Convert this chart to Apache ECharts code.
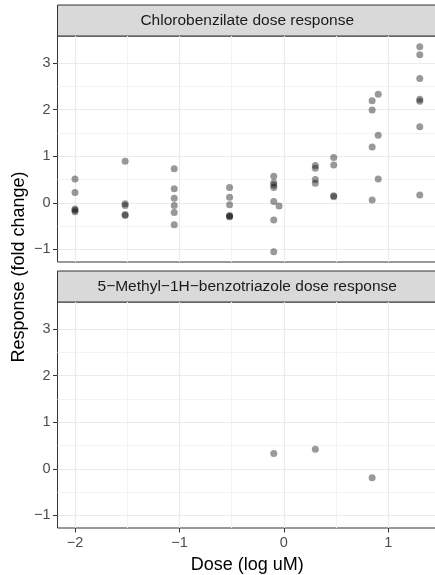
<!DOCTYPE html>
<html>
<head>
<meta charset="utf-8">
<script src="https://cdn.jsdelivr.net/npm/echarts@6/dist/echarts.min.js"></script>
<style>
  html, body { margin: 0; padding: 0; background: #fff; }
  #main { width: 435px; height: 575px; }
</style>
</head>
<body>
<div id="main"></div>
<script>
var chartDom = document.getElementById('main');
var myChart = echarts.init(chartDom);
var option;

// panel titles
const panelTitles = ['Chlorobenzilate dose response', '5\u2212Methyl\u22121H\u2212benzotriazole dose response'];

// Chlorobenzilate: dose (log uM) and response (fold change)
const chloroDose = [
  -2, -2, -2, -2, -2,
  -1.52, -1.52, -1.52, -1.52, -1.52,
  -1.05, -1.05, -1.05, -1.05, -1.05, -1.05,
  -0.52, -0.52, -0.52, -0.52, -0.52, -0.52,
  -0.097, -0.097, -0.097, -0.097, -0.097, -0.097, -0.097,
  -0.046,
  0.301, 0.301, 0.301, 0.301,
  0.477, 0.477, 0.477, 0.477,
  0.845, 0.845, 0.845, 0.845,
  0.903, 0.903, 0.903,
  1.301, 1.301, 1.301, 1.301, 1.301, 1.301, 1.301
];
const chloroResponse = [
  0.51, 0.22, -0.13, -0.16, -0.19,
  0.89, -0.02, -0.06, -0.25, -0.27,
  0.73, 0.30, 0.10, -0.06, -0.21, -0.47,
  0.33, 0.12, -0.04, -0.27, -0.29, -0.30,
  0.57, 0.43, 0.38, 0.33, 0.03, -0.37, -1.05,
  -0.07,
  0.80, 0.74, 0.50, 0.42,
  0.97, 0.81, 0.15, 0.13,
  2.19, 1.99, 1.20, 0.06,
  2.33, 1.45, 0.51,
  3.35, 3.18, 2.67, 2.22, 2.18, 1.63, 0.17
];

// 5-Methyl-1H-benzotriazole
const methylDose = [-0.097, 0.301, 0.845];
const methylResponse = [0.33, 0.42, -0.19];

// ticks
const xMajor = [-2, -1, 0, 1];
const xMinor = [-1.5, -0.5, 0.5];
const yMajor = [-1, 0, 1, 2, 3];
const yMinor = [-0.5, 0.5, 1.5, 2.5];

const X_MIN = -2.1676, X_MAX = 1.466;
const Y_MIN = -1.27, Y_MAX = 3.58;

const LEFT = 57.5;
const RIGHT = -2;
const panels = [
  { stripTop: 5, top: 36, height: 226 },
  { stripTop: 271, top: 302, height: 226 }
];
const STRIP_H = 31;
const FONT = 'Liberation Sans, Arial, sans-serif';

function zip(xs, ys) {
  return xs.map((x, i) => [x, ys[i]]);
}

function minusFmt(v) {
  return String(v).replace('-', '\u2212');
}

let grids = [], xAxes = [], yAxes = [], series = [], graphics = [];

panels.forEach((p, i) => {
  grids.push({
    left: LEFT, right: RIGHT, top: p.top, height: p.height,
    outerBoundsMode: 'none', containLabel: false,
    show: true, borderColor: '#333333', borderWidth: 1, backgroundColor: '#fff'
  });
  const last = i === panels.length - 1;
  // minor x
  xAxes.push({
    gridIndex: i, type: 'value', min: X_MIN, max: X_MAX, position: 'bottom', offset: 0,
    axisLine: { show: false, onZero: false },
    axisTick: { show: false, customValues: xMinor },
    axisLabel: { show: false, customValues: xMinor },
    splitLine: { show: true, lineStyle: { color: '#f3f3f3', width: 1 } }
  });
  // major x
  xAxes.push({
    gridIndex: i, type: 'value', min: X_MIN, max: X_MAX, position: 'bottom', offset: 0,
    axisLine: { show: false, onZero: false },
    axisTick: { show: last, length: 4.5, lineStyle: { color: '#333333' }, customValues: xMajor },
    axisLabel: { show: last, customValues: xMajor, formatter: minusFmt, color: '#4d4d4d',
      fontSize: 14.5, fontFamily: FONT, margin: 7 },
    splitLine: { show: true, lineStyle: { color: '#ebebeb', width: 1.1 } },
    name: last ? 'Dose (log uM)' : '',
    nameLocation: 'middle', nameGap: 28,
    nameTextStyle: { color: '#000', fontSize: 18, fontFamily: FONT }
  });
  // minor y
  yAxes.push({
    gridIndex: i, type: 'value', min: Y_MIN, max: Y_MAX, position: 'left', offset: 0,
    axisLine: { show: false, onZero: false },
    axisTick: { show: false, customValues: yMinor },
    axisLabel: { show: false, customValues: yMinor },
    splitLine: { show: true, lineStyle: { color: '#f3f3f3', width: 1 } }
  });
  // major y
  yAxes.push({
    gridIndex: i, type: 'value', min: Y_MIN, max: Y_MAX, position: 'left', offset: 0,
    axisLine: { show: false, onZero: false },
    axisTick: { show: true, length: 4.5, lineStyle: { color: '#333333' }, customValues: yMajor },
    axisLabel: { show: true, customValues: yMajor, formatter: minusFmt, color: '#4d4d4d',
      fontSize: 14.5, fontFamily: FONT, margin: 7 },
    splitLine: { show: true, lineStyle: { color: '#ebebeb', width: 1.1 } }
  });

  // strip
  graphics.push({
    type: 'rect',
    shape: { x: LEFT, y: p.stripTop, width: 435 - RIGHT - LEFT, height: STRIP_H },
    style: { fill: '#d9d9d9', stroke: '#333333', lineWidth: 1 }
  });
  graphics.push({
    type: 'text',
    x: (LEFT + 435 - RIGHT) / 2, y: p.stripTop + STRIP_H / 2,
    style: { text: panelTitles[i], fill: '#1a1a1a', font: '15.5px ' + FONT,
      textAlign: 'center', textVerticalAlign: 'middle' }
  });
});

const pointStyle = { color: 'rgba(0,0,0,0.5)' };

series.push({
  name: 'Chlorobenzilate', type: 'scatter', xAxisIndex: 1, yAxisIndex: 1,
  data: zip(chloroDose, chloroResponse), symbolSize: 7, itemStyle: pointStyle
});
series.push({
  name: '5-Methyl-1H-benzotriazole', type: 'scatter', xAxisIndex: 3, yAxisIndex: 3,
  data: zip(methylDose, methylResponse), symbolSize: 7, itemStyle: pointStyle
});

// y title
graphics.push({
  type: 'text', x: 19, y: 267, rotation: Math.PI / 2,
  style: { text: 'Response (fold change)', fill: '#000', font: '18px ' + FONT,
    textAlign: 'center', textVerticalAlign: 'middle' }
});

option = {
  animation: false,
  grid: grids,
  xAxis: xAxes,
  yAxis: yAxes,
  series: series,
  graphic: graphics
};

option && myChart.setOption(option);
</script>
</body>
</html>
